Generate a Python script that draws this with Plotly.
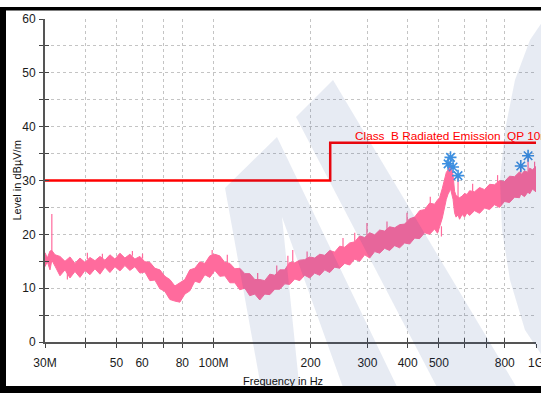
import math
import plotly.graph_objects as go

# ---- measured spectrum: lower / upper envelope of the peak-detector trace ----
FREQ_MHZ = [30.0, 30.5, 31.09, 31.5, 32.22, 33.39, 34.60, 35.86, 37.16, 38.51, 39.91, 41.36,
            42.86, 44.42, 46.03, 47.70, 49.43, 51.23, 53.09, 55.01, 57.01, 59.08, 61.23, 63.45,
            65.75, 68.14, 70.62, 73.18, 75.84, 78.59, 81.45, 84.40, 87.47, 90.65, 93.94, 97.35,
            100.9, 104.5, 108.3, 112.3, 116.4, 120.6, 125.0, 129.5, 134.2, 139.1, 144.1, 149.4,
            154.8, 160.4, 166.2, 172.3, 178.5, 185.0, 191.7, 198.7, 205.9, 213.4, 221.2, 229.2,
            237.5, 246.1, 255.1, 264.3, 273.9, 283.9, 294.2, 304.9, 316.0, 327.4, 339.3, 351.6,
            364.4, 377.6, 391.3, 405.6, 420.3, 435.5, 451.4, 467.7, 484.7, 495.0, 502.3, 512.0,
            520.6, 527.0, 533.7, 539.5, 543.0, 548.0, 553.0, 559.1, 565.0, 573.0, 579.4, 590.0,
            600.4, 611.0, 622.2, 644.8, 668.2, 692.5, 717.7, 743.7, 770.7, 798.7, 827.7, 857.8,
            888.9, 897.0, 921.2, 945.0, 954.7, 975.0, 1000.0]
LEVEL_LO = [14.0, 14.9, 13.4, 15.2, 14.1, 12.3, 13.4, 11.9, 13.1, 12.0, 13.3, 12.5,
            13.6, 12.6, 13.9, 12.9, 14.0, 13.2, 14.2, 13.3, 14.0, 12.8, 13.0, 11.4,
            11.5, 9.9, 9.4, 7.9, 7.6, 7.4, 8.9, 9.5, 11.3, 11.0, 12.5, 12.0,
            13.3, 12.2, 12.3, 11.0, 11.0, 9.7, 10.0, 8.6, 8.9, 7.8, 8.9, 8.8,
            9.8, 9.8, 10.8, 10.7, 11.7, 11.4, 12.4, 11.9, 12.8, 12.4, 13.4, 12.9,
            13.9, 13.7, 14.6, 14.3, 15.4, 15.0, 16.2, 15.6, 16.8, 16.5, 17.4, 17.0,
            17.9, 17.5, 18.4, 18.2, 19.3, 19.2, 20.3, 20.0, 21.0, 20.2, 21.4, 23.0,
            25.0, 26.5, 27.5, 28.0, 28.5, 27.8, 26.5, 24.0, 23.2, 23.6, 22.8, 23.7,
            23.2, 24.0, 23.5, 24.4, 23.9, 24.9, 24.6, 25.5, 25.0, 26.1, 25.9, 26.9,
            26.8, 27.5, 27.0, 27.9, 27.5, 28.4, 27.9]
LEVEL_HI = [16.6, 15.6, 16.9, 17.0, 16.2, 15.9, 15.0, 15.8, 14.6, 15.6, 14.8, 15.7,
            15.1, 15.9, 15.2, 16.2, 15.4, 16.5, 15.6, 16.3, 15.4, 15.9, 14.9, 14.8,
            13.7, 13.4, 12.2, 11.6, 10.4, 11.0, 11.6, 13.4, 13.7, 14.9, 14.6, 16.0,
            16.3, 16.0, 14.8, 14.6, 13.6, 13.7, 12.7, 12.7, 11.6, 11.6, 11.4, 12.6,
            12.4, 13.4, 13.4, 14.8, 14.7, 15.2, 15.3, 15.8, 15.6, 16.3, 16.1, 17.0,
            16.7, 17.8, 17.6, 18.4, 18.6, 19.7, 19.4, 20.3, 19.9, 20.8, 20.6, 21.4,
            21.2, 21.8, 21.9, 22.9, 23.2, 24.4, 24.6, 25.8, 25.6, 26.4, 26.8, 28.5,
            30.5, 31.5, 32.0, 32.8, 33.0, 32.0, 31.0, 28.0, 27.2, 27.0, 26.8, 27.1,
            27.6, 27.4, 28.1, 27.9, 28.7, 28.3, 29.3, 29.2, 30.0, 29.8, 30.8, 30.7,
            31.6, 31.0, 31.8, 31.5, 32.3, 32.0, 32.6]

# isolated needles sticking out of the band: frequency, start level, end level
SPIKE_FREQ_MHZ = [31.5, 35.2, 40.6, 45.2, 56.0, 60.2, 99.0, 110.3, 137.0, 157.0, 170.0, 176.0,
                  195.0, 252.0, 274.0, 299.0, 345.0, 398.0, 470.0, 509.0, 573.0, 636.0, 760.0,
                  897.0, 945.0, 990.0]
SPIKE_FROM = [16.5, 13.0, 15.4, 15.4, 16.0, 15.5, 16.0, 14.6, 11.5, 12.5, 14.0, 14.6,
              15.3, 17.5, 18.6, 19.8, 21.0, 22.4, 25.5, 21.5, 27.0, 28.0, 29.6,
              31.0, 31.5, 32.3]
SPIKE_TO = [23.8, 11.6, 16.6, 16.4, 16.9, 16.4, 17.1, 16.2, 12.8, 14.2, 16.0, 17.1,
            16.8, 19.3, 20.3, 22.1, 22.4, 24.0, 27.0, 19.6, 30.6, 29.4, 31.0,
            32.4, 34.3, 33.5]

# ---- limit line ----
LIMIT_FREQ_MHZ = [30, 230, 230, 1000]
LIMIT_LEVEL = [30, 30, 37, 37]
LIMIT_LABEL = "Class\u00a0 B Radiated Emission\u00a0 QP 10m"

# ---- final (quasi-peak) measurement points ----
PEAK_FREQ_MHZ = [533.7, 543.0, 553.0, 573.0, 897.0, 945.0]
PEAK_LEVEL = [33.1, 34.3, 32.5, 30.9, 32.7, 34.6]

# ---- axis ticks ----
X_TICKS_MHZ = [30, 40, 50, 60, 70, 80, 100, 200, 300, 400, 500, 600, 700, 800, 1000]
X_TICK_TEXT = ["30M", "", "50", "60", "", "80", "100M", "200", "300", "400", "500", "", "", "800", "1G"]
Y_TICKS = [0, 5, 10, 15, 20, 25, 30, 35, 40, 45, 50, 55, 60]
Y_TICK_TEXT = ["0", "", "10", "", "20", "", "30", "", "40", "", "50", "", "60"]

W, H = 541, 393
ML, MR, MT, MB = 45, 5, 19, 51
PW, PH = W - ML - MR, H - MT - MB

FONT = "Liberation Sans, Arial, sans-serif"
TRACE_COLOR = "#ff6b9d"


def px(x, y):
    """pixel position on the page -> paper coordinates"""
    return (x - ML) / PW, (H - MB - y) / PH


def poly(points):
    parts = []
    for i, (x, y) in enumerate(points):
        u, v = px(x, y)
        parts.append(("M" if i == 0 else "L") + f"{u:.4f},{v:.4f}")
    return " ".join(parts) + " Z"


def hz(seq):
    return [f * 1e6 for f in seq]


band_x = hz(FREQ_MHZ) + hz(FREQ_MHZ[::-1])
band_y = LEVEL_HI + LEVEL_LO[::-1]

sx, sy = [], []
for f, a, b in zip(SPIKE_FREQ_MHZ, SPIKE_FROM, SPIKE_TO):
    sx += [f * 1e6, f * 1e6, None]
    sy += [a, b, None]

fig = go.Figure()
fig.add_trace(go.Scatter(x=band_x, y=band_y, fill="toself", fillcolor=TRACE_COLOR,
                         mode="lines", line=dict(color=TRACE_COLOR, width=1),
                         hoverinfo="skip", showlegend=False))
fig.add_trace(go.Scatter(x=sx, y=sy, mode="lines", line=dict(color=TRACE_COLOR, width=1.2),
                         showlegend=False, connectgaps=False))
fig.add_trace(go.Scatter(x=hz(LIMIT_FREQ_MHZ), y=LIMIT_LEVEL, mode="lines",
                         line=dict(color="#ff0000", width=2.5), showlegend=False))
fig.add_trace(go.Scatter(x=hz(PEAK_FREQ_MHZ), y=PEAK_LEVEL, mode="markers",
                         marker=dict(symbol="asterisk-open", size=10, color="#3d8fe0",
                                     line=dict(color="#3d8fe0", width=1.6)),
                         showlegend=False))
# empty trace that brings up the overlaid axes carrying the inner half of each tick
fig.add_trace(go.Scatter(x=[None], y=[None], xaxis="x2", yaxis="y2", showlegend=False))

xr = [math.log10(30e6) - 1e-6, math.log10(1e9) + 1e-6]
common_x = dict(type="log", range=xr, tickmode="array", tickvals=hz(X_TICKS_MHZ),
                ticklen=4, tickwidth=1.4, tickcolor="#444444", zeroline=False)
common_y = dict(range=[0, 60], tickmode="array", tickvals=Y_TICKS,
                ticklen=4, tickwidth=1.4, tickcolor="#444444", zeroline=False)

fig.update_layout(
    width=W, height=H,
    margin=dict(l=ML, r=MR, t=MT, b=MB, pad=0, autoexpand=False),
    paper_bgcolor="white", plot_bgcolor="white",
    font=dict(family=FONT, size=12, color="#1a1a1a"),
    xaxis=dict(**common_x, ticktext=X_TICK_TEXT, ticks="outside", showline=True,
               linecolor="#555555", linewidth=2, showgrid=True, gridcolor="#c4c4c4",
               griddash="dot", gridwidth=1, ticklabelstandoff=5, ticklabeloverflow="allow",
               automargin=False,
               tickfont=dict(size=12, family=FONT, color="#1a1a1a")),
    yaxis=dict(**common_y, ticktext=Y_TICK_TEXT, ticks="outside", showline=True,
               linecolor="#555555", linewidth=2, showgrid=True, gridcolor="#c4c4c4",
               griddash="dot", gridwidth=1, ticklabelstandoff=1, ticklabeloverflow="allow",
               automargin=False,
               tickfont=dict(size=12, family=FONT, color="#1a1a1a")),
    xaxis2=dict(**common_x, overlaying="x", side="bottom", anchor="y2", ticks="inside",
                showticklabels=False, showgrid=False, showline=False),
    yaxis2=dict(**common_y, overlaying="y", side="left", anchor="x2", ticks="inside",
                showticklabels=False, showgrid=False, showline=False),
)

ux = px(16, 0)[0]
fig.add_annotation(text="Level in dBµV/m", xref="paper", yref="paper", x=ux, y=0.5,
                   textangle=-90, showarrow=False, xanchor="center", yanchor="middle",
                   font=dict(size=11, family=FONT, color="#111111"))
fx, fy = px(283, 381)
fig.add_annotation(text="Frequency in Hz", xref="paper", yref="paper", x=fx, y=fy,
                   showarrow=False, xanchor="center", yanchor="middle",
                   font=dict(size=11, family=FONT, color="#111111"))
lx = px(353, 0)[0]
fig.add_annotation(text=LIMIT_LABEL, xref="paper", yref="y", x=lx, y=LIMIT_LEVEL[-1],
                   showarrow=False, xanchor="left", yanchor="bottom", yshift=-2,
                   font=dict(size=11.8, family=FONT, color="#ff0000"))

# translucent logo drawn over the plot
WM = "rgba(20,60,140,0.10)"
logo = [
    [(225, 188), (277, 137), (400, 393), (345, 393), (282, 217), (300, 393), (262, 393)],
    [(296, 117), (333, 80), (520, 393), (440, 393)],
    [(545, 18), (530, 40), (515, 80), (505, 130), (500, 180), (502, 230), (510, 280),
     (525, 330), (545, 360)],
]
shapes = [dict(type="path", xref="paper", yref="paper", path=poly(p), fillcolor=WM,
               line=dict(width=0), layer="above") for p in logo]

# dark frame around the chart window
for (x0, y0, x1, y1) in [(0, 7, 541, 10.5), (0, 7, 6, 393), (0, 386, 541, 393)]:
    a0, b0 = px(x0, y0)
    a1, b1 = px(x1, y1)
    shapes.append(dict(type="rect", xref="paper", yref="paper", x0=a0, y0=b1, x1=a1, y1=b0,
                       fillcolor="black", line=dict(width=0), layer="above"))
fig.update_layout(shapes=shapes)

fig.write_html("out.html")
